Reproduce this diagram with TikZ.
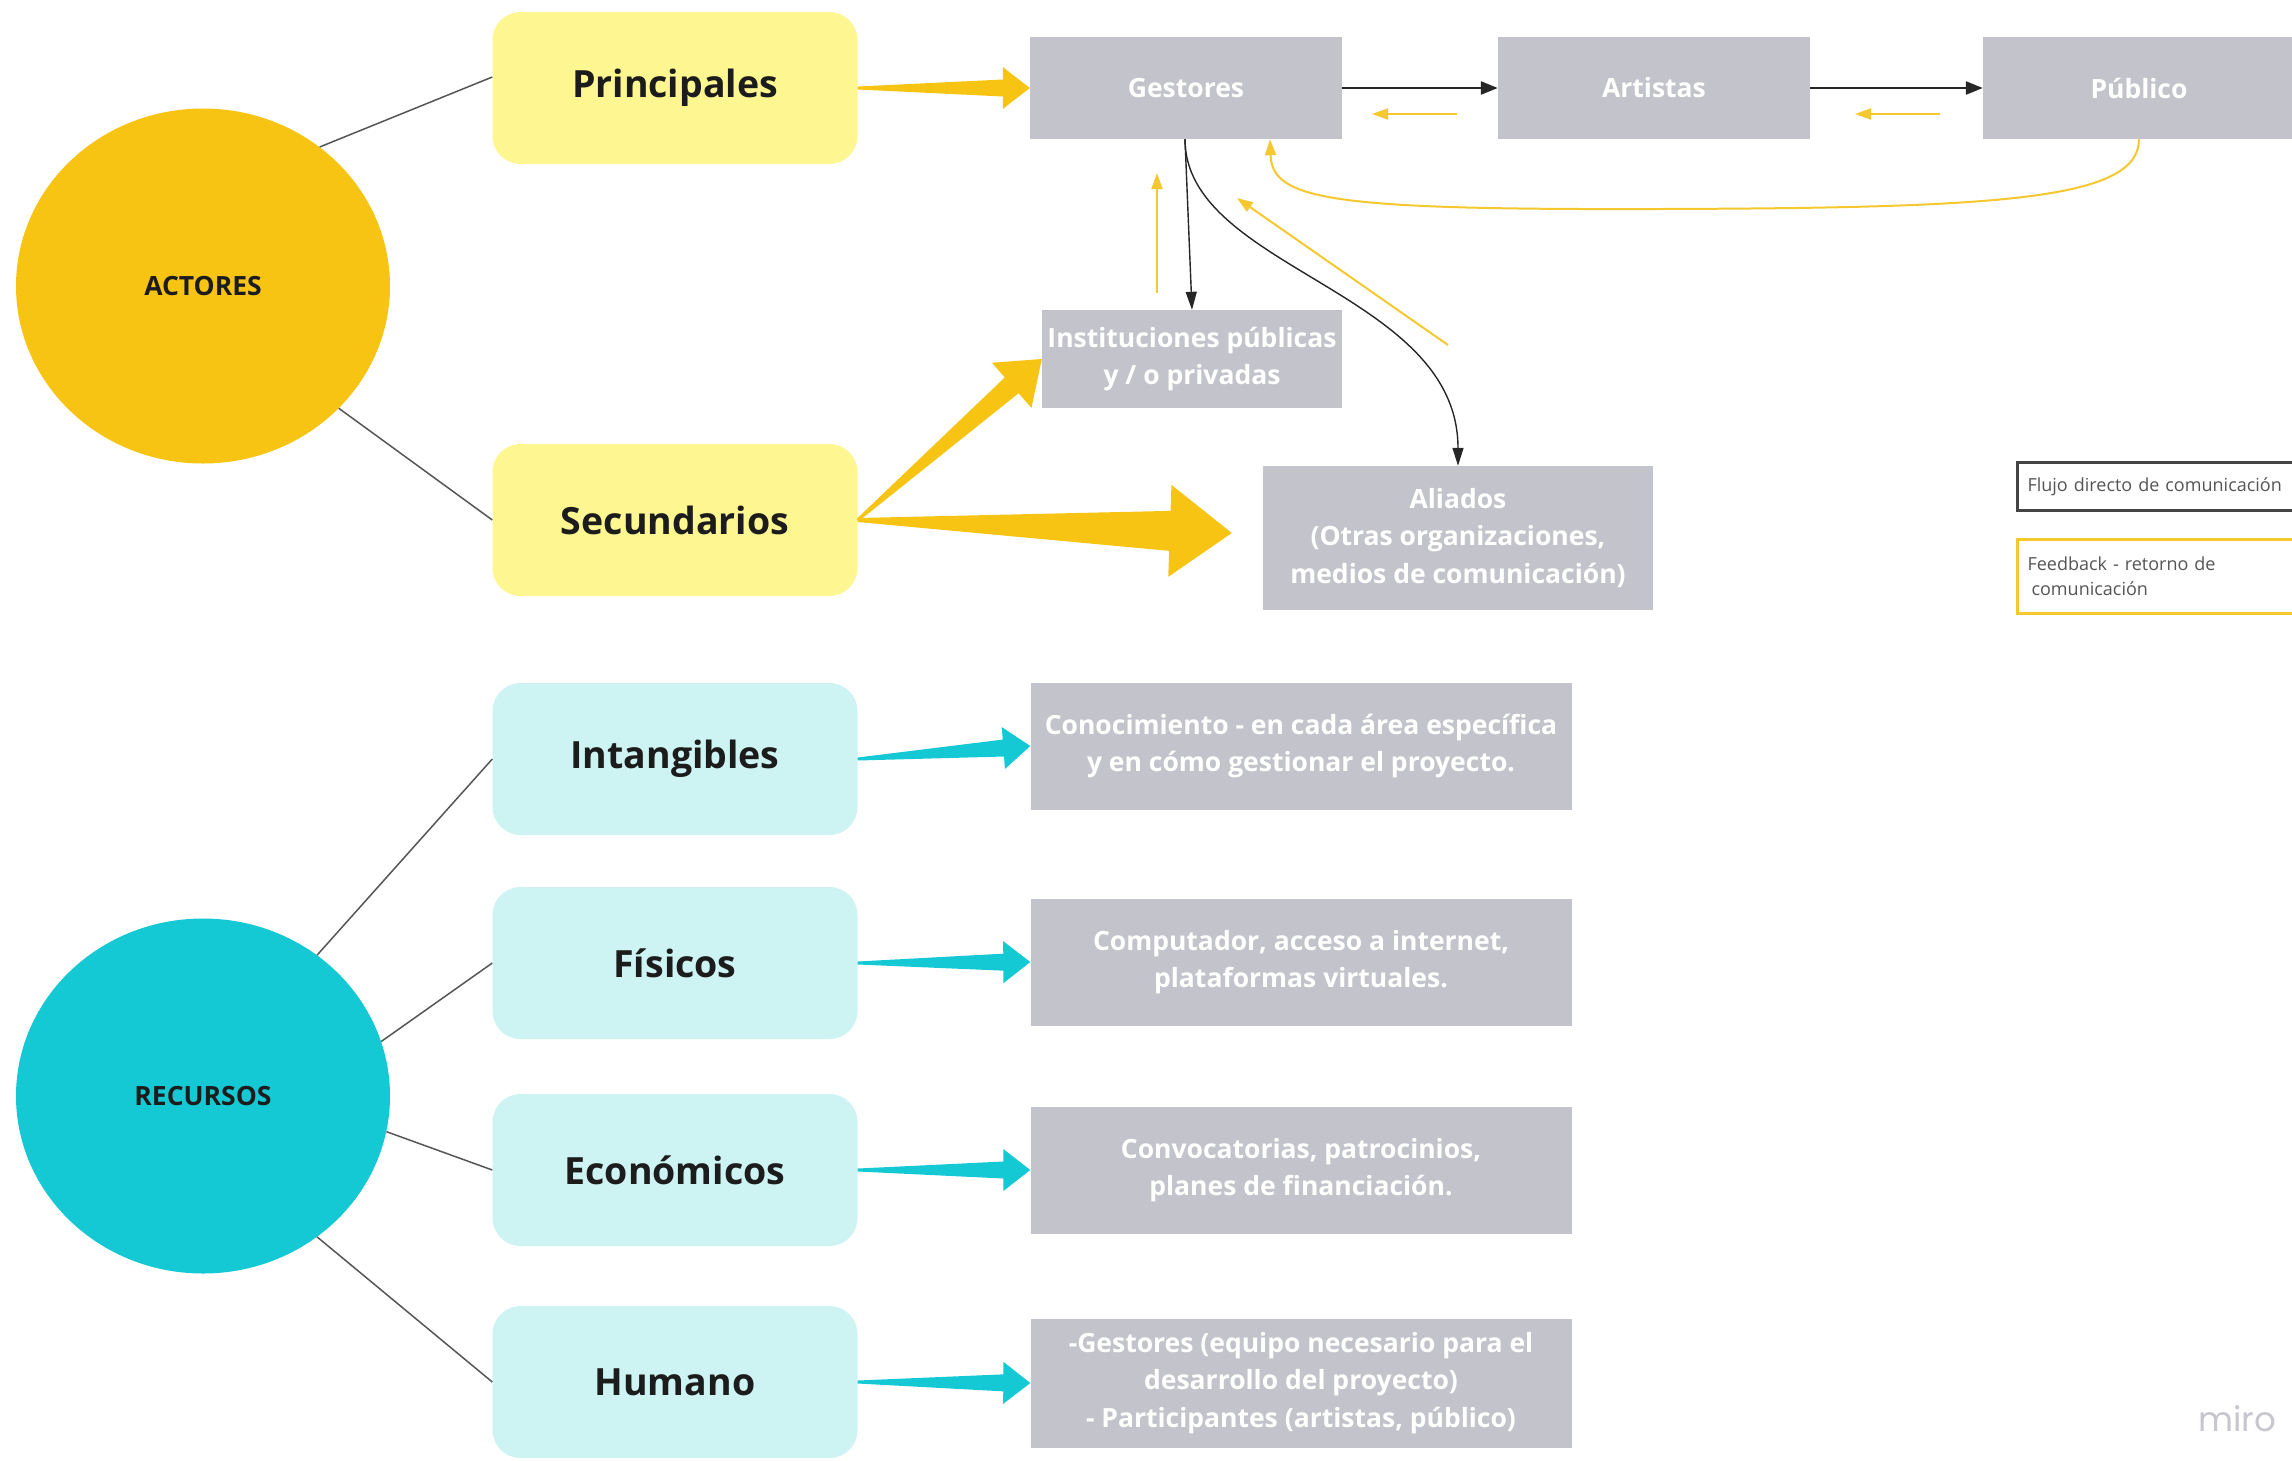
\documentclass[tikz,border=0pt]{standalone}
\usepackage{fontspec}
\setmainfont{Open Sans}
\newfontfamily\logofont{Poppins}
\usetikzlibrary{calc,arrows.meta,shapes.geometric}
\definecolor{gold}{HTML}{F7C413}
\definecolor{lightyel}{HTML}{FEF690}
\definecolor{cyanc}{HTML}{14C9D4}
\definecolor{lightcyan}{HTML}{CDF3F3}
\definecolor{boxgray}{HTML}{C3C3CB}
\definecolor{fbyel}{HTML}{F5C830}
\definecolor{linegray}{HTML}{555555}
\definecolor{textdark}{HTML}{1C1C1C}
\definecolor{legdark}{HTML}{444444}
\definecolor{legtext}{HTML}{555555}
\definecolor{mirogray}{HTML}{C6C6CE}
% fat tapered arrow: start, end, half width start, half width at head, head length, head half width, colour
\newcommand\fatarrow[7]{%
  \coordinate (fabase) at ($(#2)!#5!(#1)$);
  \fill[#7] ($(#1)!#3!90:(#2)$) -- ($(fabase)!#4!90:(#2)$) -- ($(fabase)!#6!90:(#2)$) -- (#2)
    -- ($(fabase)!#6!-90:(#2)$) -- ($(fabase)!#4!-90:(#2)$) -- ($(#1)!#3!-90:(#2)$) -- cycle;}
\begin{document}
\begin{tikzpicture}[x=1pt,y=-1pt,
  circ/.style={ellipse, minimum width=374pt, minimum height=355pt, inner sep=0pt,
    font=\fontsize{26.5}{30}\selectfont\bfseries, text=textdark},
  catbox/.style={rounded corners=28pt, minimum width=365pt, minimum height=152pt, inner sep=0pt,
    font=\fontsize{37.5}{40}\selectfont\bfseries, text=textdark},
  gbox/.style={fill=boxgray, text=white, font=\fontsize{26.5}{37.5}\selectfont\bfseries,
    align=center, inner sep=0pt},
  conn/.style={draw=linegray, line width=1.5pt},
  flow/.style={draw=black!85, line width=2.5pt, -{Triangle[length=17pt,width=13pt]}},
  thinflow/.style={draw=black!85, line width=1.4pt, -{Triangle[length=18pt,width=11pt]}},
  fb/.style={draw=fbyel, line width=2pt, -{Triangle[length=16pt,width=11pt]}},
  legbox/.style={line width=3pt, minimum height=48pt, text width=280pt, inner xsep=10pt,
    align=left, anchor=north west, text=legtext, font=\fontsize{18}{25}\selectfont, fill=white}
]
\useasboundingbox (0,0) rectangle (2292,1460);

% circles
\node[circ, fill=gold] (act) at (203,286) {ACTORES};
\node[circ, fill=cyanc] (rec) at (203,1096) {RECURSOS};

% category boxes
\node[catbox, fill=lightyel] (prin) at (675,88) {Principales};
\node[catbox, fill=lightyel] (sec) at (675,520) {Secundarios};
\node[catbox, fill=lightcyan] (intg) at (675,759) {Intangibles};
\node[catbox, fill=lightcyan] (fis) at (675,963) {Físicos};
\node[catbox, fill=lightcyan] (eco) at (675,1170) {Económicos};
\node[catbox, fill=lightcyan] (hum) at (675,1382) {Humano};

% gray boxes
\node[gbox, minimum width=312pt, minimum height=102pt] (gest) at (1186,88) {Gestores};
\node[gbox, minimum width=312pt, minimum height=102pt] (art) at (1654,88) {Artistas};
\node[gbox, minimum width=312pt, minimum height=102pt] (pub) at (2139,88) {Público};
\node[gbox, minimum width=300pt, minimum height=98pt] (inst) at (1192,359) {Instituciones públicas\\y / o privadas};
\node[gbox, minimum width=390pt, minimum height=144pt] (ali) at (1458,538) {Aliados\\(Otras organizaciones,\\medios de comunicación)};
\node[gbox, minimum width=541pt, minimum height=127pt] (con) at (1301,746) {Conocimiento - en cada área específica\\y en cómo gestionar el proyecto.};
\node[gbox, minimum width=541pt, minimum height=127pt] (comp) at (1301,962) {Computador, acceso a internet,\\plataformas virtuales.};
\node[gbox, minimum width=541pt, minimum height=127pt] (conv) at (1301,1170) {Convocatorias, patrocinios,\\planes de financiación.};
\node[gbox, minimum width=541pt, minimum height=129pt] (hgest) at (1301,1383) {-Gestores (equipo necesario para el\\desarrollo del proyecto)\\- Participantes (artistas, público)};

% legend
\node[legbox, draw=legdark] (leg1) at (2016,461) {Flujo directo de comunicación};
\node[legbox, draw=fbyel, minimum height=74pt] (leg2) at (2016,538) {Feedback - retorno de\\\hspace*{4pt}comunicación};

% logo
\node[text=mirogray, font=\logofont\fontsize{34}{40}\selectfont] (miro) at (2237,1419) {miro};

% connectors circles -> boxes
\draw[conn] (act.50.5) -- ([yshift=11pt]prin.west);
\draw[conn] (act.-42.8) -- (sec.west);
\draw[conn] (rec.51.4) -- (intg.west);
\draw[conn] (rec.17.9) -- (fis.west);
\draw[conn] (rec.-11.9) -- (eco.west);
\draw[conn] (rec.-51) -- (hum.west);

% fat arrows
\coordinate (aliTip) at ($(ali.west)+(-31,-5)$);
\fatarrow{prin.east}{gest.west}{1.5pt}{8.5pt}{27pt}{21pt}{gold}
\fatarrow{sec.east}{inst.west}{1.5pt}{10.5pt}{40pt}{30pt}{gold}
\fatarrow{sec.east}{aliTip}{2pt}{20pt}{62pt}{46pt}{gold}
\fatarrow{intg.east}{con.west}{1.5pt}{8.5pt}{27pt}{21pt}{cyanc}
\fatarrow{fis.east}{comp.west}{1.5pt}{8.5pt}{27pt}{21pt}{cyanc}
\fatarrow{eco.east}{conv.west}{1.5pt}{8.5pt}{27pt}{21pt}{cyanc}
\fatarrow{hum.east}{hgest.west}{1.5pt}{8.5pt}{27pt}{21pt}{cyanc}

% direct flow
\draw[flow] (gest.east) -- (art.west);
\draw[flow] (art.east) -- (pub.west);
\draw[thinflow] ([xshift=-1pt]gest.south) -- (inst.north);
\draw[thinflow] ([xshift=-1pt]gest.south) .. controls +(0,130) and +(0,-175) .. (ali.north);

% feedback
\coordinate (fb1s) at (1457,114);
\coordinate (fb1e) at (1372,114);
\coordinate (fb2s) at (1940,114);
\coordinate (fb2e) at (1855,114);
\draw[fb] (fb1s) -- (fb1e);
\draw[fb] (fb2s) -- (fb2e);
\coordinate (fbup1) at (1157,293);
\coordinate (fbup2) at (1157,173);
\draw[fb] (fbup1) -- (fbup2);
\coordinate (fbd1) at (1448,345);
\coordinate (fbd2) at (1237,198);
\draw[fb] (fbd1) -- (fbd2);
\coordinate (fbmid) at (1660,209);
\coordinate (gfb) at ($(gest.south)+(84,0)$);
\draw[fb] (pub.south) .. controls (2139,200) and (2000,208) .. (fbmid)
  .. controls (1330,210) and (1272,200) .. (gfb);
\end{tikzpicture}
\end{document}
